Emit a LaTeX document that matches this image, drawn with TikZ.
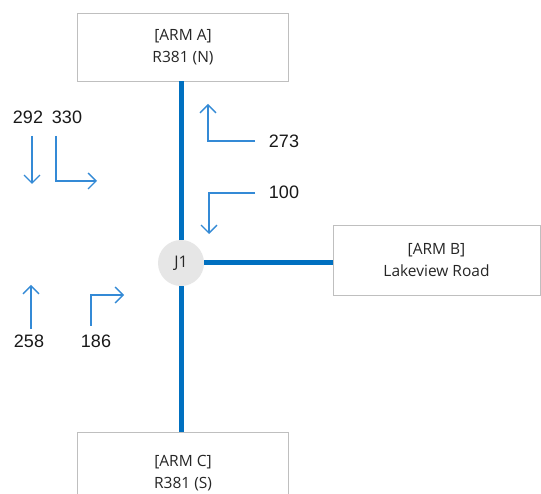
\documentclass[tikz,border=0pt]{standalone}
\usepackage{fontspec}
\setmainfont{Open Sans}
\newfontfamily\numfont{Liberation Sans}
\usetikzlibrary{arrows.meta}
\definecolor{roadblue}{RGB}{0,112,192}
\definecolor{flowblue}{RGB}{52,138,214}
\definecolor{boxgray}{RGB}{191,191,191}
\definecolor{jgray}{RGB}{230,230,230}
\tikzset{
  armbox/.style={draw=boxgray, line width=0.9pt, fill=white, align=center,
    minimum width=211pt, inner sep=0pt, font=\fontsize{15.5}{21.5}\selectfont, text=black!85},
  road/.style={draw=roadblue, line width=5pt},
  flow/.style={draw=flowblue, line width=1.4pt, -{Straight Barb[length=8pt,width=16pt,line width=1.4pt]}},
  num/.style={font=\numfont\fontsize{18}{20}\selectfont, text=black!90, inner sep=0pt},
}
\begin{document}
\begin{tikzpicture}[x=1pt,y=-1pt]
\useasboundingbox (0,0) rectangle (541,494);
\clip (0,0) rectangle (541,494);
\fill[white] (0,0) rectangle (541,494);
% arm boxes
\node[armbox, minimum height=68pt] (A) at (183,47) {[ARM A]\\R381 (N)};
\node[armbox, minimum height=82pt] (C) at (183,473) {[ARM C]\\R381 (S)};
\node[armbox, minimum width=207pt, minimum height=70pt] (B) at (436.5,260) {[ARM B]\\Lakeview Road};
% junction
\node[circle, fill=jgray, minimum size=46pt, inner sep=0pt, font=\fontsize{16}{18}\selectfont, text=black!85] (J1) at (181,263) {J1};
% roads
\draw[road] (A.south -| J1) -- (J1);
\draw[road] (J1) -- (C.north -| J1);
\draw[road] (J1.east) -- (B.west |- J1.east);
% flow arrows
\coordinate (a1s) at (32,136); \coordinate (a1e) at (32,184);
\draw[flow] (a1s) -- (a1e);
\coordinate (a2s) at (56,136); \coordinate (a2e) at (97,181);
\draw[flow] (a2s) |- (a2e);
\coordinate (a3s) at (255,141); \coordinate (a3e) at (208,104);
\draw[flow] (a3s) -| (a3e);
\coordinate (a4s) at (255,193); \coordinate (a4e) at (209,234);
\draw[flow] (a4s) -| (a4e);
\coordinate (a5s) at (31,329); \coordinate (a5e) at (31,285);
\draw[flow] (a5s) -- (a5e);
\coordinate (a6s) at (91,326); \coordinate (a6e) at (124,295);
\draw[flow] (a6s) |- (a6e);
% numbers
\node[num] (n292) at (28,117) {292};
\node[num] (n330) at (67,117) {330};
\node[num] (n273) at (284,141) {273};
\node[num] (n100) at (284,192) {100};
\node[num] (n258) at (29,341) {258};
\node[num] (n186) at (96,341) {186};
\end{tikzpicture}
\end{document}
